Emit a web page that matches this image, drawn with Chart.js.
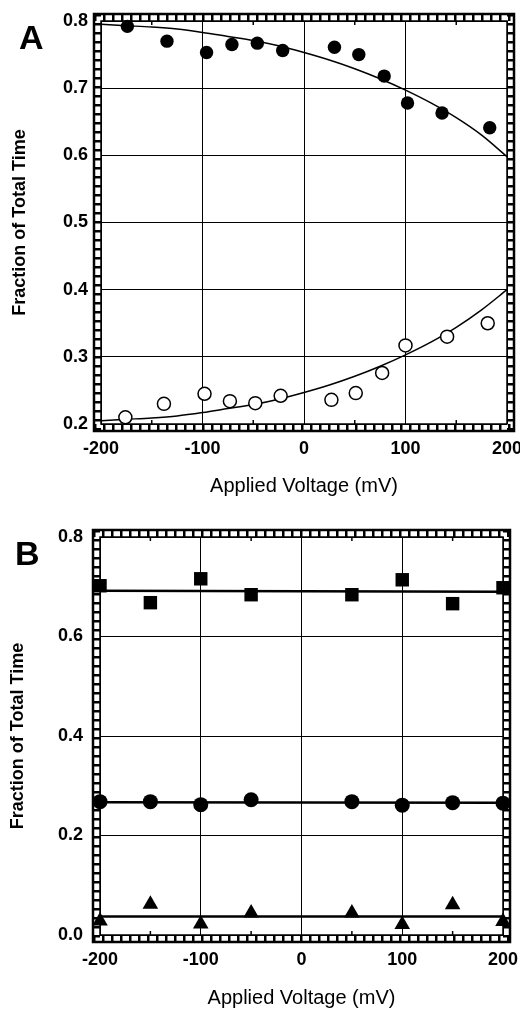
<!DOCTYPE html>
<html lang="en">
<head>
<meta charset="UTF-8">
<title>Fraction of Total Time vs Applied Voltage</title>
<script src="https://cdn.jsdelivr.net/npm/chart.js"></script>
<style>
    body { margin: 0; background: #fff; }
    #wrap { position: relative; width: 520px; height: 1011px; }
    canvas { position: absolute; left: 0; }
    .panel { position: absolute; font-family: "Liberation Sans", Arial, sans-serif; font-size: 34px; font-weight: bold; line-height: 34px; color: #000; z-index: 2; }
</style>
</head>
<body>
<div id="wrap">
    <canvas id="chartA" width="520" height="505" style="top:0"></canvas>
    <canvas id="chartB" width="520" height="506" style="top:505px"></canvas>
    <div class="panel" style="left:19px; top:20px;">A</div>
    <div class="panel" style="left:15px; top:536px;">B</div>
</div>
<script>
    // shared x axis
    const voltTicks = [-200, -100, 0, 100, 200];
    const voltLabels = ['-200', '-100', '0', '100', '200'];

    // panel A - filled and open circles with fitted curves
    const filledV = [-174, -135, -96, -71, -46, -21, 30, 54, 79, 102, 136, 183];
    const filledFrac = [0.792, 0.770, 0.753, 0.765, 0.767, 0.756, 0.761, 0.750, 0.718, 0.678, 0.663, 0.641];
    const openV = [-176, -138, -98, -73, -48, -23, 27, 51, 77, 100, 141, 181];
    const openFrac = [0.210, 0.230, 0.245, 0.234, 0.231, 0.242, 0.236, 0.246, 0.276, 0.317, 0.330, 0.350];
    const fitV = [-200, -175, -150, -125, -100, -75, -50, -25, 0, 25, 50, 75, 100, 125, 150, 175, 200];
    const filledFit = [0.795, 0.793, 0.791, 0.788, 0.783, 0.777, 0.771, 0.763, 0.753, 0.742, 0.729, 0.714, 0.697, 0.678, 0.656, 0.630, 0.598];
    const openFit = [0.205, 0.207, 0.209, 0.212, 0.217, 0.223, 0.229, 0.237, 0.247, 0.258, 0.271, 0.286, 0.303, 0.322, 0.344, 0.370, 0.400];
    const fracTicksA = [0.2, 0.3, 0.4, 0.5, 0.6, 0.7, 0.8];
    const fracLabelsA = ['0.2', '0.3', '0.4', '0.5', '0.6', '0.7', '0.8'];

    // panel B - squares, circles, triangles with flat lines
    const voltsB = [-200, -150, -100, -50, 50, 100, 150, 200];
    const squareFrac = [0.702, 0.668, 0.716, 0.684, 0.684, 0.714, 0.666, 0.698];
    const circleFrac = [0.268, 0.268, 0.262, 0.272, 0.268, 0.261, 0.266, 0.265];
    const triangleFrac = [0.028, 0.062, 0.022, 0.044, 0.044, 0.021, 0.061, 0.027];
    const lineV = [-200, 200];
    const squareLine = [0.692, 0.690];
    const circleLine = [0.267, 0.266];
    const triangleLine = [0.037, 0.037];
    const fracTicksB = [0, 0.2, 0.4, 0.6, 0.8];
    const fracLabelsB = ['0.0', '0.2', '0.4', '0.6', '0.8'];

    const pts = (xs, ys) => xs.map((x, i) => ({ x: x, y: ys[i] }));

    // hatched double border round the plot area
    const framePlugin = {
        id: 'frame',
        beforeDatasetsDraw(chart) {
            const { ctx, chartArea: a } = chart;
            const g = 7, step = 9;
            ctx.save();
            ctx.fillStyle = '#000';
            ctx.strokeStyle = '#000';
            for (let x = a.left - g; x <= a.right + g; x += step) {
                ctx.fillRect(x, a.top - g, 2.5, g);
                ctx.fillRect(x, a.bottom, 2.5, g);
            }
            for (let y = a.top - g; y <= a.bottom + g; y += step) {
                ctx.fillRect(a.left - g, y, g, 2.5);
                ctx.fillRect(a.right, y, g, 2.5);
            }
            // small inward ticks half way between grid lines
            const xs = chart.scales.x;
            ctx.lineWidth = 1.5;
            [-150, -50, 50, 150].forEach(v => {
                const px = xs.getPixelForValue(v);
                ctx.beginPath();
                ctx.moveTo(px, a.top); ctx.lineTo(px, a.top + 4);
                ctx.moveTo(px, a.bottom); ctx.lineTo(px, a.bottom - 4);
                ctx.stroke();
            });
            ctx.lineWidth = 2.5;
            ctx.strokeRect(a.left - g, a.top - g, a.right - a.left + 2 * g, a.bottom - a.top + 2 * g);
            ctx.lineWidth = 1.5;
            ctx.strokeRect(a.left, a.top, a.right - a.left, a.bottom - a.top);
            ctx.restore();
        }
    };

    function makeOptions(c) {
        return {
            responsive: false,
            animation: false,
            devicePixelRatio: 1,
            layout: { autoPadding: false, padding: { left: 0, right: c.padRight, top: c.padTop, bottom: 0 } },
            plugins: { legend: { display: false }, tooltip: { enabled: false } },
            scales: {
                x: {
                    type: 'linear', min: -200, max: 200,
                    afterBuildTicks: s => { s.ticks = voltTicks.map(v => ({ value: v })); },
                    afterFit: s => { s.height = c.xHeight; s.paddingLeft = 0; s.paddingRight = 0; },
                    ticks: {
                        color: '#000', padding: 14, maxRotation: 0,
                        font: { family: 'Liberation Sans', size: 18, weight: 'bold' },
                        callback: (v, i) => voltLabels[i]
                    },
                    grid: { color: '#000', lineWidth: 1, drawTicks: false },
                    border: { display: false },
                    title: {
                        display: true, text: 'Applied Voltage (mV)', color: '#000',
                        font: { family: 'Liberation Sans', size: 20 },
                        padding: { top: 0, bottom: c.xTitlePad }
                    }
                },
                y: {
                    type: 'linear', min: c.yMin, max: c.yMax,
                    afterBuildTicks: s => { s.ticks = c.yTicks.map(v => ({ value: v })); },
                    afterFit: s => { s.width = c.yWidth; s.paddingTop = 0; s.paddingBottom = 0; },
                    ticks: {
                        color: '#000', padding: c.yTickPad,
                        font: { family: 'Liberation Sans', size: 18, weight: 'bold' },
                        callback: (v, i) => c.yLabels[i]
                    },
                    grid: { color: '#000', lineWidth: 1, drawTicks: false },
                    border: { display: false },
                    title: {
                        display: true, text: 'Fraction of Total Time', color: '#000',
                        font: { family: 'Liberation Sans', size: 18, weight: 'bold' },
                        padding: { top: c.yTitlePad, bottom: 0 }
                    }
                }
            }
        };
    }

    const marker = (data, style, radius, fill, extra) => Object.assign({
        data: data, showLine: false, pointStyle: style, pointRadius: radius,
        pointBackgroundColor: fill, pointBorderColor: '#000', pointBorderWidth: 0, clip: false
    }, extra || {});
    const fitLine = (data, width) => ({
        data: data, showLine: true, pointRadius: 0, borderColor: '#000', borderWidth: width,
        tension: 0.4, cubicInterpolationMode: 'monotone', clip: false
    });

    new Chart(document.getElementById('chartA'), {
        type: 'scatter',
        data: {
            datasets: [
                marker(pts(filledV, filledFrac), 'circle', 6.7, '#000'),
                marker(pts(openV, openFrac), 'circle', 6.5, '#fff', { pointBorderWidth: 1.5 }),
                fitLine(pts(fitV, filledFit), 1.5),
                fitLine(pts(fitV, openFit), 1.5)
            ]
        },
        options: makeOptions({
            yMin: 0.2, yMax: 0.8, yTicks: fracTicksA, yLabels: fracLabelsA,
            padRight: 13, padTop: 21, xHeight: 81, yWidth: 101, yTickPad: 13,
            xTitlePad: 7, yTitlePad: 9
        }),
        plugins: [framePlugin]
    });

    new Chart(document.getElementById('chartB'), {
        type: 'scatter',
        data: {
            datasets: [
                marker(pts(voltsB, squareFrac), 'rect', 9.5, '#000'),
                marker(pts(voltsB, circleFrac), 'circle', 7.5, '#000'),
                marker(pts(voltsB, triangleFrac), 'triangle', 9, '#000'),
                fitLine(pts(lineV, squareLine), 2.5),
                fitLine(pts(lineV, circleLine), 2.5),
                fitLine(pts(lineV, triangleLine), 2.5)
            ]
        },
        options: makeOptions({
            yMin: 0, yMax: 0.8, yTicks: fracTicksB, yLabels: fracLabelsB,
            padRight: 17, padTop: 32, xHeight: 76, yWidth: 100, yTickPad: 17,
            xTitlePad: 1, yTitlePad: 7
        }),
        plugins: [framePlugin]
    });
</script>
</body>
</html>
